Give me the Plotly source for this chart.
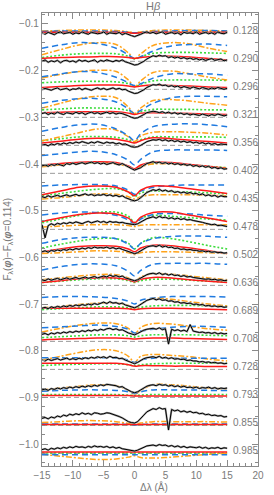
import plotly.graph_objects as go

# ---------------- data ----------------
phases = ["0.128", "0.290", "0.296", "0.321", "0.356", "0.402", "0.435", "0.478",
          "0.502", "0.636", "0.689", "0.708", "0.728", "0.793", "0.855", "0.985"]
offsets = [-0.12, -0.18, -0.24, -0.30, -0.36, -0.42, -0.48, -0.54,
           -0.60, -0.66, -0.72, -0.78, -0.84, -0.90, -0.96, -1.02]

# wavelength grid of the observed difference spectra (Angstrom)
x_obs = [-15.0, -14.5, -14.0, -13.5, -13.0, -12.5, -12.0, -11.5, -11.0, -10.5,
         -10.0, -9.5, -9.0, -8.5, -8.0, -7.5, -7.0, -6.5, -6.0, -5.5,
         -5.0, -4.5, -4.0, -3.5, -3.0, -2.5, -2.0, -1.5, -1.0, -0.5,
         0.0, 0.5, 1.0, 1.5, 2.0, 2.5, 3.0, 3.5, 4.0, 4.5,
         5.0, 5.5, 6.0, 6.5, 7.0, 7.5, 8.0, 8.5, 9.0, 9.5,
         10.0, 10.5, 11.0, 11.5, 12.0, 12.5, 13.0, 13.5, 14.0, 14.5, 15.0]

# observed difference spectra, relative to each zero level (units of 1e-3)
obs_0128 = [1, -2, 2, 0, -3, 1, 3, -1, 0, 2, -2, 1, -1, 3, 0, -2, 2, 1, -1, 0,
            3, -2, 1, 0, -1, 2, -3, 0, -3, -5, -7, -5, -2, 1, 3, 0, 2, -1, 1, 3,
            -2, 0, 2, -1, 1, -3, 2, 0, 1, -1, 3, -2, 0, 2, -1, 1, -2, 3, 0, -1, 2]
obs_0290 = [0, 3, -2, 1, -1, 2, -3, 1, 2, -1, 1, -2, 3, 0, 2, -1, 1, 3, -2, 2,
            0, 3, 1, -1, 2, 0, 3, -1, -3, -6, -8, -7, -4, 0, 5, 9, 12, 10, 13, 11,
            12, 8, 10, 7, 9, 6, 8, 5, 7, 4, 6, 3, 5, 2, 4, 6, 2, 3, 5, 1, 3]
obs_0296 = [-1, 2, 0, -2, 1, 3, -1, 0, 2, -2, 1, 0, 3, -1, 2, 0, -2, 1, 3, 0,
            2, -1, 1, 3, 0, 2, -1, 0, -4, -7, -9, -8, -5, -1, 4, 7, 10, 9, 11, 8,
            9, 6, 8, 5, 7, 3, 6, 4, 2, 5, 3, 1, 4, 2, 0, 3, 1, 4, 2, 0, 2]
obs_0321 = [8, 10, 6, 9, 7, 11, 8, 6, 10, 9, 7, 11, 8, 10, 6, 9, 11, 8, 10, 7,
            9, 11, 8, 10, 7, 9, 8, 6, 3, 0, -2, -1, 2, 6, 10, 11, 13, 12, 10, 12,
            9, 11, 8, 10, 7, 9, 6, 8, 5, 7, 6, 4, 7, 5, 3, 6, 4, 7, 5, 3, 5]
obs_0356 = [0, 2, -1, 3, 1, 4, 2, 5, 3, 6, 4, 7, 5, 8, 6, 4, 7, 5, 8, 6,
            4, 7, 5, 6, 3, 5, 2, 3, 0, -3, -4, -3, 0, 4, 8, 10, 12, 11, 13, 10,
            12, 9, 11, 8, 10, 7, 9, 6, 8, 5, 7, 4, 6, 3, 5, 2, 4, 1, 3, 2, 2]
obs_0402 = [16, 18, 15, 19, 17, 20, 18, 16, 21, 19, 22, 19, 21, 23, 20, 22, 24, 21, 23, 20,
            22, 19, 21, 23, 20, 18, 21, 17, 13, 10, 7, 9, 12, 17, 21, 23, 25, 22, 24, 21,
            23, 20, 22, 19, 21, 18, 20, 17, 19, 15, 17, 14, 16, 13, 15, 11, 13, 10, 12, 9, 10]
obs_0435 = [10, 8, 12, 9, 11, 13, 10, 12, 14, 11, 13, 15, 12, 14, 16, 13, 15, 12, 14, 13,
            15, 12, 14, 11, 13, 10, 12, 8, 5, 3, 1, 3, 8, 14, 19, 22, 25, 23, 26, 22,
            24, 21, 23, 19, 21, 18, 20, 17, 19, 16, 17, 14, 16, 12, 14, 11, 13, 9, 12, 10, 10]
obs_0478 = [10, -18, 8, 12, 9, 13, 11, 14, 12, 15, 13, 16, 14, 12, 15, 17, 14, 16, 18, 15,
            17, 14, 17, 15, 16, 14, 15, 13, 12, 11, 10, 12, 16, 20, 23, 25, 27, 24, 28, 25,
            26, 23, 25, 22, 24, 21, 23, 20, 21, 19, 18, 16, 15, 13, 12, 10, 11, 8, 9, 7, 6]
obs_0502 = [12, 14, 11, 15, 13, 16, 14, 17, 15, 18, 16, 19, 17, 20, 18, 21, 19, 22, 20, 21,
            20, 22, 19, 21, 18, 20, 17, 15, 12, 10, 8, 10, 14, 19, 22, 24, 25, 23, 26, 22,
            24, 21, 22, 19, 20, 17, 18, 16, 17, 15, 15, 13, 14, 12, 13, 11, 12, 10, 11, 9, 10]
obs_0636 = [12, 10, 14, 11, 13, 15, 12, 14, 16, 13, 15, 17, 14, 16, 18, 15, 17, 19, 16, 18,
            20, 18, 22, 19, 21, 18, 20, 16, 14, 12, 10, 12, 16, 20, 23, 25, 26, 24, 27, 23,
            25, 22, 24, 21, 22, 19, 21, 18, 19, 17, 16, 15, 14, 13, 14, 12, 13, 11, 12, 10, 11]
obs_0689 = [11, 13, 10, 14, 12, 15, 13, 16, 14, 17, 15, 18, 16, 19, 17, 20, 18, 21, 19, 22,
            24, 21, 25, 22, 23, 20, 22, 18, 16, 14, 12, 15, 19, 24, 28, 30, 32, 29, 31, 28,
            29, 26, 27, 24, 25, 22, 23, 21, 22, 19, 20, 18, 19, 16, 17, 15, 16, 14, 15, 13, 14]
obs_0708 = [15, 17, 14, 18, 16, 19, 17, 20, 18, 21, 19, 22, 20, 23, 21, 24, 22, 25, 23, 26,
            24, 27, 28, 25, 27, 24, 25, 21, 18, 16, 14, 17, 21, 24, 26, 27, 28, 26, 29, 25,
            27, -6, 26, 23, 25, 22, 24, 21, 36, 22, 21, 19, 20, 18, 19, 17, 19, 16, 18, 16, 17]
obs_0728 = [20, 18, 22, 19, 21, 23, 20, 22, 24, 21, 23, 21, 24, 22, 25, 23, 26, 24, 27, 25,
            27, 24, 28, 25, 26, 23, 24, 20, 17, 14, 12, 15, 19, 23, 25, 26, 27, 25, 28, 24,
            26, 23, 25, 22, 23, 21, 22, 19, 20, 18, 18, 16, 17, 15, 16, 14, 15, 13, 14, 12, 13]
obs_0793 = [16, 18, 15, 19, 17, 20, 18, 21, 19, 22, 20, 23, 21, 24, 22, 25, 23, 26, 24, 27,
            25, 28, 27, 26, 25, 22, 23, 19, 15, 12, 10, 12, 16, 21, 24, 26, 27, 25, 28, 26,
            27, 24, 26, 23, 25, 22, 24, 21, 22, 20, 22, 19, 21, 20, 22, 19, 21, 18, 20, 19, 20]
obs_0855 = [15, 17, 14, 18, 16, 20, 18, 22, 20, 24, 22, 25, 23, 27, 24, 26, 23, 27, 26, 24,
            25, 27, 26, 24, 22, 19, 16, 12, 8, 6, 5, 8, 14, 22, 29, 33, 36, 34, 38, 35,
            36, -10, 34, 31, 33, 29, 31, 28, 30, 27, 28, 25, 26, 23, 24, 21, 22, 20, 21, 18, 19]
obs_0985 = [8, 10, 7, 11, 9, 12, 10, 13, 11, 14, 12, 15, 13, 14, 12, 15, 13, 16, 14, 15,
            13, 15, 12, 14, 11, 13, 10, 9, 7, 6, 5, 7, 10, 13, 16, 17, 18, 16, 19, 17,
            18, 15, 17, 14, 16, 13, 15, 12, 14, 13, 12, 14, 11, 13, 10, 12, 11, 13, 10, 12, 11]
observed = [obs_0128, obs_0290, obs_0296, obs_0321, obs_0356, obs_0402, obs_0435, obs_0478,
            obs_0502, obs_0636, obs_0689, obs_0708, obs_0728, obs_0793, obs_0855, obs_0985]

# model difference spectra sampled at these wavelengths (units of 1e-3)
x_mod = [-15, -12, -9, -6, -3, -1, 0, 1, 3, 6, 9, 12, 15]
zero_x = [-15, 15]
zero_y = [0, 0]

model_red = [
    [2, 2, 2, 2, 2, 1, 0, 1, 2, 2, 2, 2, 2],
    [6, 8, 9, 10, 10, 8, 6, 8, 11, 11, 9, 6, 3],
    [4, 6, 8, 9, 9, 7, 5, 7, 9, 8, 7, 5, 4],
    [10, 11, 12, 12, 12, 9, 6, 9, 10, 9, 8, 7, 6],
    [5, 9, 13, 15, 13, 8, 5, 10, 16, 14, 11, 8, 5],
    [18, 21, 24, 25, 23, 16, 10, 18, 24, 23, 19, 15, 10],
    [14, 22, 30, 33, 30, 20, 12, 24, 33, 32, 27, 22, 17],
    [17, 25, 32, 35, 33, 24, 14, 26, 36, 37, 30, 24, 17],
    [12, 18, 23, 25, 24, 18, 12, 20, 26, 25, 20, 14, 8],
    [6, 10, 14, 16, 16, 12, 8, 13, 17, 16, 12, 9, 6],
    [11, 11, 11, 11, 11, 10, 8, 10, 11, 11, 10, 9, 8],
    [3, 5, 6, 7, 7, 6, 5, 6, 7, 7, 6, 5, 4],
    [13, 13, 13, 13, 13, 10, 7, 8, 8, 7, 7, 6, 6],
    [4, 4, 4, 4, 4, 4, 3, 3, 3, 3, 3, 3, 3],
    [2, 2, 2, 2, 2, 2, 2, 2, 2, 2, 2, 2, 2],
    [3, 3, 3, 3, 3, 3, 3, 3, 3, 3, 3, 3, 3],
]
model_blue = [
    [4, 5, 5, 5, 4, 2, 1, 2, 4, 5, 6, 6, 5],
    [28, 35, 40, 38, 28, 14, 6, 10, 22, 33, 36, 37, 34],
    [27, 33, 38, 36, 26, 14, 8, 12, 24, 33, 33, 33, 30],
    [30, 36, 40, 40, 33, 18, 8, 15, 30, 42, 45, 45, 44],
    [30, 38, 44, 45, 35, 20, 10, 25, 40, 45, 46, 44, 40],
    [38, 42, 46, 47, 40, 28, 18, 30, 46, 50, 50, 50, 49],
    [33, 35, 36, 36, 33, 24, 15, 22, 30, 34, 35, 35, 35],
    [31, 35, 37, 36, 30, 20, 12, 22, 32, 34, 33, 30, 28],
    [30, 38, 42, 43, 40, 28, 18, 30, 40, 45, 46, 45, 43],
    [33, 40, 45, 46, 42, 30, 20, 32, 45, 47, 47, 47, 45],
    [34, 36, 36, 35, 32, 26, 20, 28, 33, 36, 36, 36, 35],
    [29, 31, 33, 35, 32, 26, 18, 22, 26, 30, 32, 32, 30],
    [25, 25, 25, 25, 24, 20, 15, 20, 24, 24, 24, 24, 24],
    [13, 15, 16, 16, 15, 12, 8, 12, 16, 16, 16, 15, 15],
    [3, 3, 3, 3, 3, 2, 1, 2, 3, 3, 3, 3, 3],
    [-3, -3, -3, -3, -3, -3, -3, -3, -3, -3, -3, -3, -3],
]
model_orange = [
    [5, 6, 7, 7, 6, 3, 1, 3, 6, 7, 7, 6, 5],
    [14, 25, 35, 40, 36, 18, 6, 16, 34, 40, 37, 28, 21],
    [24, 32, 38, 41, 38, 20, 6, 18, 36, 39, 33, 26, 20],
    [20, 30, 40, 45, 42, 22, 8, 20, 36, 38, 35, 30, 26],
    [10, 18, 27, 35, 33, 18, 8, 20, 28, 29, 28, 26, 22],
    [14, 18, 22, 23, 20, 14, 8, 14, 20, 20, 17, 14, 12],
    [5, 8, 12, 16, 15, 10, 5, 10, 14, 14, 14, 13, 12],
    [5, 7, 9, 10, 10, 8, 6, 9, 10, 10, 10, 10, 10],
    [8, 10, 12, 14, 13, 10, 6, 10, 12, 12, 11, 10, 8],
    [12, 16, 20, 23, 23, 16, 8, 18, 25, 24, 20, 16, 12],
    [12, 15, 19, 22, 22, 17, 10, 20, 32, 30, 25, 20, 16],
    [20, 28, 35, 39, 38, 28, 15, 30, 38, 37, 32, 27, 24],
    [20, 28, 36, 42, 40, 28, 15, 28, 32, 30, 27, 22, 18],
    [16, 20, 24, 27, 25, 15, 6, 15, 27, 27, 24, 20, 18],
    [6, 8, 10, 10, 8, 4, 1, 5, 8, 8, 8, 8, 7],
    [-2, -6, -10, -13, -12, -8, -5, -9, -10, -8, -5, -2, 0],
]
model_green = [
    [3, 3, 3, 3, 3, 2, 1, 2, 3, 3, 3, 3, 3],
    [8, 13, 16, 17, 16, 11, 5, 10, 17, 19, 19, 18, 17],
    [14, 16, 17, 17, 16, 12, 6, 11, 18, 20, 20, 20, 19],
    [16, 18, 20, 20, 19, 14, 7, 12, 17, 17, 17, 16, 16],
    [10, 14, 18, 19, 17, 12, 6, 12, 18, 18, 18, 18, 17],
    [16, 19, 22, 23, 21, 15, 9, 15, 21, 21, 18, 15, 12],
    [12, 17, 22, 26, 27, 20, 10, 18, 22, 21, 20, 18, 16],
    [14, 22, 30, 36, 37, 28, 15, 24, 30, 28, 25, 22, 20],
    [20, 28, 35, 40, 40, 30, 18, 30, 42, 40, 33, 25, 18],
    [6, 9, 12, 14, 14, 10, 6, 10, 13, 13, 11, 9, 7],
    [8, 10, 12, 14, 14, 12, 9, 13, 16, 17, 17, 16, 15],
    [8, 10, 12, 14, 14, 12, 9, 12, 14, 14, 14, 13, 12],
    [8, 10, 11, 12, 12, 10, 8, 10, 12, 13, 13, 13, 13],
    [6, 6, 6, 6, 6, 5, 4, 5, 6, 6, 6, 6, 6],
    [2, 2, 2, 2, 2, 2, 2, 2, 2, 2, 2, 2, 2],
    [1, 1, 1, 1, 1, 1, 1, 1, 1, 1, 1, 1, 1],
]

x_ticks = [-15, -10, -5, 0, 5, 10, 15, 20]
y_ticks = [-0.1, -0.2, -0.3, -0.4, -0.5, -0.6, -0.7, -0.8, -0.9, -1.0]
y_ticktext = ["\u22120.1", "\u22120.2", "\u22120.3", "\u22120.4", "\u22120.5",
              "\u22120.6", "\u22120.7", "\u22120.8", "\u22120.9", "\u22121.0"]

# ---------------- figure ----------------
FONT = "Liberation Sans, Arial, Helvetica, sans-serif"
AXC = "#8a8a8a"
TXT = "#7a7a7a"

fig = go.Figure()

def shift(vals, off):
    return [v / 1000.0 + off for v in vals]

for k, ph in enumerate(phases):
    off = offsets[k]
    fig.add_trace(go.Scatter(x=zero_x, y=shift(zero_y, off), mode="lines",
                             line=dict(color="#9a9a9a", width=1, dash="5px,3px"),
                             hoverinfo="skip", showlegend=False))
    fig.add_trace(go.Scatter(x=x_mod, y=shift(model_green[k], off), mode="lines",
                             line=dict(color="#3ddc3d", width=1.6, dash="2px,2px", shape="spline"),
                             hoverinfo="skip", showlegend=False))
    fig.add_trace(go.Scatter(x=x_mod, y=shift(model_orange[k], off), mode="lines",
                             line=dict(color="#ffa31a", width=1.5, dash="6px,2px,2px,2px", shape="spline"),
                             hoverinfo="skip", showlegend=False))
    fig.add_trace(go.Scatter(x=x_mod, y=shift(model_blue[k], off), mode="lines",
                             line=dict(color="#1f7ae0", width=1.5, dash="6px,4px", shape="spline"),
                             hoverinfo="skip", showlegend=False))
    fig.add_trace(go.Scatter(x=x_mod, y=shift(model_red[k], off), mode="lines",
                             line=dict(color="#ff1a1a", width=1.5, shape="spline"),
                             hoverinfo="skip", showlegend=False))
    fig.add_trace(go.Scatter(x=x_obs, y=shift(observed[k], off), mode="lines",
                             line=dict(color="#a0a0a0", width=2.0),
                             hoverinfo="skip", showlegend=False))
    fig.add_trace(go.Scatter(x=x_obs, y=shift(observed[k], off), mode="lines",
                             line=dict(color="#000000", width=1.0),
                             hoverinfo="skip", showlegend=False))
    fig.add_annotation(x=15.7, y=off, xref="x", yref="y", text=ph, showarrow=False,
                       xanchor="left", yanchor="middle", yshift=3,
                       font=dict(family=FONT, size=10, color=TXT))

fig.add_annotation(x=0.518, y=1.0, xref="paper", yref="paper", yshift=7,
                   text="H<i>\u03b2</i>", showarrow=False, xanchor="center", yanchor="middle",
                   font=dict(family=FONT, size=11, color=TXT))
fig.add_annotation(x=0.518, y=0.0, xref="paper", yref="paper", yshift=-21,
                   text="\u0394\u03bb (\u00c5)", showarrow=False, xanchor="center", yanchor="middle",
                   font=dict(family=FONT, size=10, color=TXT))
fig.add_annotation(x=0.0, y=0.5, xref="paper", yref="paper", xshift=-35,
                   text="F<sub>\u03bb</sub>(<b><i>\u03c6</i></b>)\u2212F<sub>\u03bb</sub>(<b><i>\u03c6</i></b>=0.114)",
                   textangle=-90, showarrow=False, xanchor="center", yanchor="middle",
                   font=dict(family=FONT, size=10, color=TXT))

fig.update_xaxes(range=[-15, 20], tickvals=x_ticks, ticks="inside", ticklen=6, tickwidth=1,
                 tickcolor=AXC, showline=True, linecolor=AXC, linewidth=1.2, mirror="allticks",
                 showgrid=False, zeroline=False,
                 minor=dict(ticks="inside", ticklen=3, dtick=1, tick0=0, tickcolor=AXC, showgrid=False),
                 tickfont=dict(family=FONT, size=10, color=TXT))
fig.update_yaxes(range=[-1.047, -0.0765], tickvals=y_ticks, ticktext=y_ticktext,
                 ticks="inside", ticklen=6, tickwidth=1, tickcolor=AXC,
                 showline=True, linecolor=AXC, linewidth=1.2, mirror="allticks",
                 showgrid=False, zeroline=False,
                 minor=dict(ticks="inside", ticklen=3, dtick=0.02, tick0=0, tickcolor=AXC, showgrid=False),
                 tickfont=dict(family=FONT, size=10, color=TXT))

fig.update_layout(width=274, height=495, margin=dict(l=42, r=10, t=13, b=29),
                  plot_bgcolor="white", paper_bgcolor="white", showlegend=False,
                  font=dict(family=FONT, size=10, color=TXT))

fig.write_html("out.html", config={"displayModeBar": False, "staticPlot": True},
               post_script="document.body.style.margin='0';document.body.style.overflow='hidden';")
